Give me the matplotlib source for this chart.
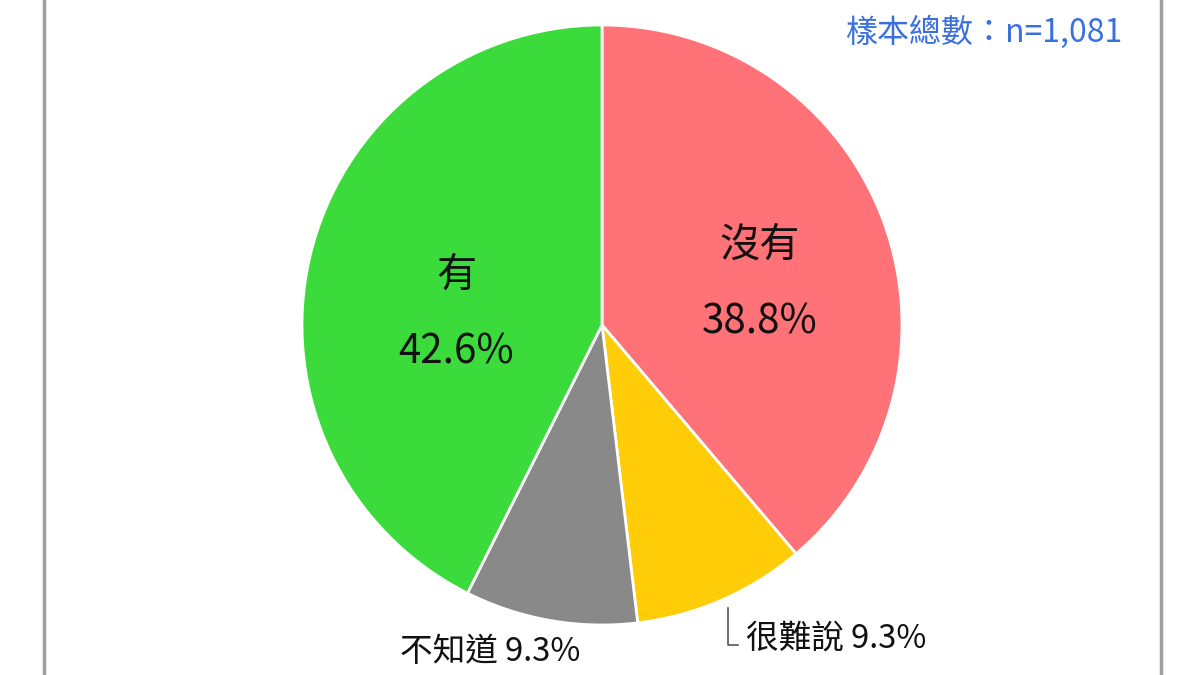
import matplotlib
matplotlib.use("Agg")
import matplotlib.pyplot as plt

plt.rcParams['font.family'] = ['Noto Sans CJK TC', 'DejaVu Sans']

labels = ['沒有', '很難說', '不知道', '有']
values = [38.8, 9.3, 9.3, 42.6]
colors = ['#FF7277', '#FFCC08', '#898989', '#3CDB3C']
sample_note = '樣本總數：n=1,081'

fig = plt.figure(figsize=(12, 6.75), dpi=100)
ax = fig.add_axes([0, 0, 1, 1])
ax.set_aspect('equal')
ax.axis('off')

# pie in pixel-like coordinates (y up)
cx, cy, r = 602, 350, 300
ax.pie(values, colors=colors, startangle=90, counterclock=False,
       center=(cx, cy), radius=r,
       wedgeprops=dict(edgecolor='white', linewidth=2))
ax.set_xlim(0, 1200)
ax.set_ylim(0, 675)

# frame lines
ax.axvline(44, color='#A0A0A0', lw=2.5)
ax.axvline(1161, color='#A0A0A0', lw=2.5)

# inside labels
big = 29
ax.text(760, 675 - 245, labels[0], ha='center', va='center', fontsize=big, color='#111111')
ax.text(760, 675 - 322, f'{values[0]}%', ha='center', va='center', fontsize=big, color='#111111')
ax.text(456, 675 - 275, labels[3], ha='center', va='center', fontsize=big, color='#111111')
ax.text(456, 675 - 352, f'{values[3]}%', ha='center', va='center', fontsize=big, color='#111111')

# outside labels
ax.plot([728, 728, 738], [675 - 608, 675 - 645, 675 - 645], color='#555555', lw=1.2)
ax.text(746, 675 - 638, f'{labels[1]} {values[1]}%', ha='left', va='center',
        fontsize=23.5, color='#111111')
ax.text(490, 675 - 652, f'{labels[2]} {values[2]}%', ha='center', va='center',
        fontsize=23.5, color='#111111')

ax.text(1122, 675 - 32, sample_note, ha='right', va='center',
        fontsize=23, color='#3A6FE0')

fig.savefig('out.png', dpi=100)
